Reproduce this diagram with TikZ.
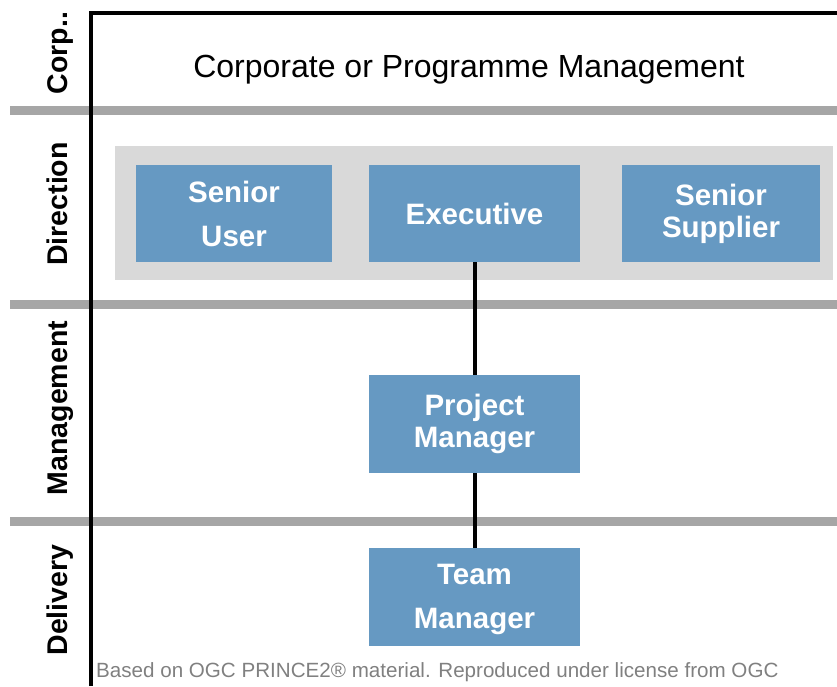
\documentclass[tikz,border=0pt]{standalone}
\usepackage{fontspec}
\setmainfont{Liberation Sans}
\usetikzlibrary{positioning}
\definecolor{rolefill}{RGB}{102,153,194}
\definecolor{bandgray}{RGB}{166,166,166}
\definecolor{panelgray}{RGB}{217,217,217}
\definecolor{notegray}{RGB}{128,128,128}

\begin{document}
\begin{tikzpicture}[x=1pt,y=-1pt,
  rolebox/.style={rectangle,fill=rolefill,text=white,inner sep=0,minimum width=211,minimum height=97,align=center,font=\bfseries\fontsize{29.5}{32}\selectfont},
  layername/.style={rotate=90,anchor=base,font=\bfseries\fontsize{28.5}{32}\selectfont}]
  \useasboundingbox (0,0) rectangle (837,686);
  % layer separators
  \foreach \y in {110,304,521}
    \fill[bandgray] (10,\y-4.5) rectangle (837,\y+4.5);
  \fill[panelgray] (115,146) rectangle (833,280);
  \draw[line width=4.5] (91,686) -- (91,13) -- (837,13);
  % layer names
  \node[layername] (corp) at (67,53) {Corp..};
  \node[layername] (dir) at (67,204) {Direction};
  \node[layername] (mgmt) at (67,408) {Management};
  \node[layername] (deliv) at (67,600) {Delivery};
  \node[font=\fontsize{32}{36}\selectfont] (corpmgmt) at (469,70) {Corporate or Programme Management};
  % roles
  \node[rolebox,minimum width=196] (suser) at (234,213.5) {Senior\\[12pt]User};
  \node[rolebox] (exec) at (474.5,213.5) {Executive};
  \node[rolebox,minimum width=198] (ssupp) at (721,213.5) {Senior\\Supplier};
  \node[rolebox,minimum height=98] (pm) at (474.5,424) {Project\\Manager};
  \node[rolebox,minimum height=98,text depth=2pt] (tm) at (474.5,597) {Team\\[12pt]Manager};
  \draw[line width=4] (exec) -- (pm) (pm) -- (tm);
  \node[anchor=base west,inner sep=0,text=notegray,font=\fontsize{20.6}{24}\selectfont] (note) at (96,677) {Based on OGC PRINCE2\textregistered{} material. Reproduced under license from OGC};
\end{tikzpicture}
\end{document}
